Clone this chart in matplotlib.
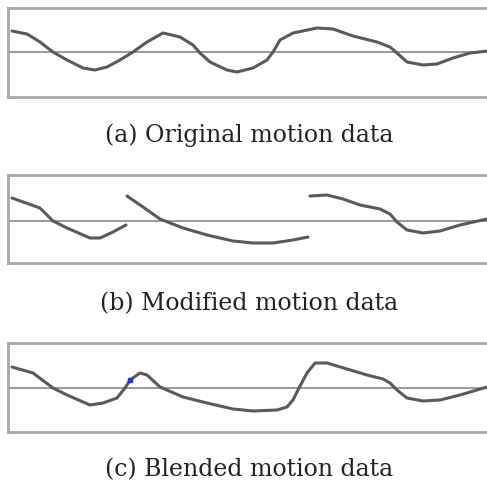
import matplotlib
matplotlib.use('Agg')
import matplotlib.pyplot as plt

# frame index (pixel-ish time) and joint value
t_orig = [4, 19, 32, 45, 59, 75, 87, 99, 112, 125, 139, 155, 172, 185, 192, 202, 219,
          229, 245, 259, 265, 272, 285, 309, 325, 345, 369, 382, 389, 399, 415, 429,
          445, 462, 480]
v_orig = [21, 18, 10, 0, -8, -16, -18, -15, -8, 0, 10, 19, 15, 7, -1, -10, -18,
          -20, -16, -8, 0, 12, 19, 24, 23, 16, 10, 5, -1, -10, -13, -12, -6, -1, 1]

# modified data : three separate pieces
t_mod1 = [4, 32, 45, 59, 82, 92, 105, 118]
v_mod1 = [23, 13, 0, -7, -17, -17, -11, -4]
t_mod2 = [119, 135, 152, 175, 199, 225, 245, 265, 285, 300]
v_mod2 = [25, 14, 2, -7, -14, -20, -22, -22, -19, -16]
t_mod3 = [302, 319, 335, 352, 372, 382, 389, 399, 415, 432, 452, 479]
v_mod3 = [25, 26, 22, 16, 12, 7, -1, -9, -12, -10, -4, 2]

# blended result
t_blend = [4, 25, 45, 59, 82, 95, 109, 117, 122, 132, 139, 152, 175, 199, 225, 245,
           269, 279, 285, 290, 299, 307, 319, 339, 359, 375, 382, 389, 399, 415, 432,
           452, 479]
v_blend = [21, 15, 0, -7, -17, -15, -10, 0, 8, 15, 13, 1, -9, -15, -21, -23,
           -22, -19, -12, -2, 15, 25, 25, 19, 13, 9, 5, -2, -10, -13, -12, -7, 1]
t_mark, v_mark = [122], [8]   # little blue point at the first joint

captions = ['(a) Original motion data', '(b) Modified motion data',
            '(c) Blended motion data']

W, H = 487, 490
fig = plt.figure(figsize=(W / 100, H / 100), dpi=100)

# panel boxes in pixels : (top, bottom, centre line)
boxes = [(8, 97, 52), (175, 263, 221), (343, 432, 388)]
cap_y = [135, 304, 470]

series = [[(t_orig, v_orig)],
          [(t_mod1, v_mod1), (t_mod2, v_mod2), (t_mod3, v_mod3)],
          [(t_blend, v_blend)]]

for i, ((top, bot, mid), segs, cap, cy) in enumerate(zip(boxes, series, captions, cap_y)):
    left, right = 8, 520
    ax = fig.add_axes([left / W, 1 - bot / H, (right - left) / W, (bot - top) / H])
    ax.set_xlim(0, right - left)
    ax.set_ylim(-(bot - mid), mid - top)
    ax.axhline(0, color='#9a9a9a', lw=1.4, zorder=1)
    for t, v in segs:
        ax.plot(t, v, color='#5a5a5a', lw=2.2, solid_joinstyle='round',
                solid_capstyle='round', zorder=2)
    if i == 2:
        ax.plot(t_mark, v_mark, 's', ms=2.5, color='#3030c0', zorder=3)
    for s in ax.spines.values():
        s.set_color('#a8a8a8')
        s.set_linewidth(2)
    ax.set_xticks([])
    ax.set_yticks([])
    fig.text(249 / W, 1 - cy / H, cap, ha='center', va='center',
             fontsize=17, family='DejaVu Serif', color='#222222')

fig.savefig('out.png', dpi=100)
